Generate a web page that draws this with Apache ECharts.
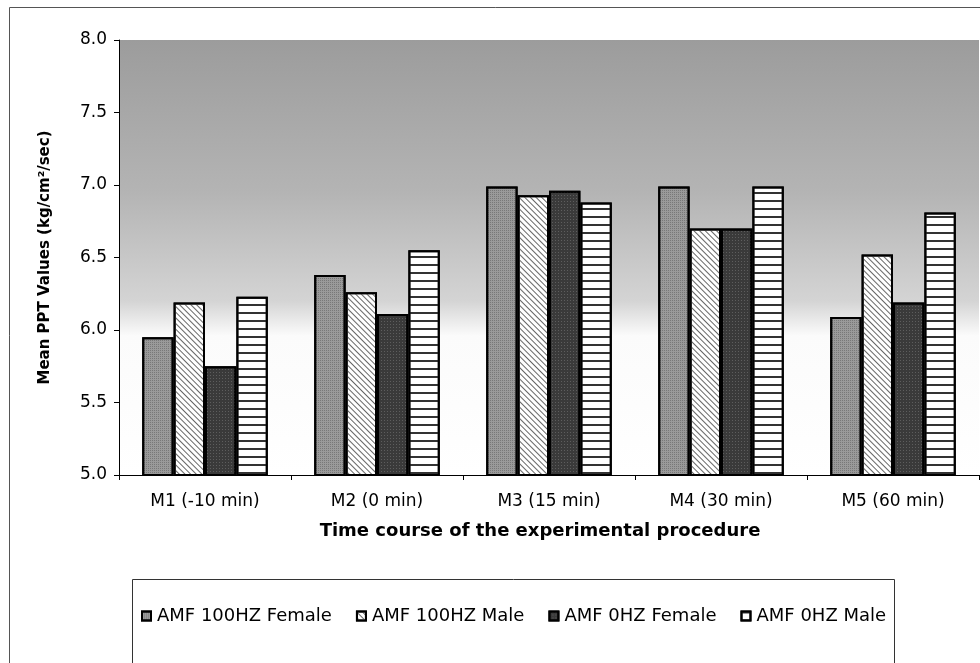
<!DOCTYPE html>
<html>
<head>
<meta charset="utf-8">
<script src="https://cdn.jsdelivr.net/npm/echarts@6/dist/echarts.min.js"></script>
<style>
html,body{margin:0;padding:0;background:#fff;}
#chart{width:980px;height:663px;}
</style>
</head>
<body>
<div id="chart"></div>
<script>
var categories = ['M1 (-10 min)', 'M2 (0 min)', 'M3 (15 min)', 'M4 (30 min)', 'M5 (60 min)'];
var seriesNames = ['AMF 100HZ Female', 'AMF 100HZ Male', 'AMF 0HZ Female', 'AMF 0HZ Male'];
var amf100Female = [5.95, 6.38, 6.99, 6.99, 6.09];
var amf100Male   = [6.19, 6.26, 6.93, 6.70, 6.52];
var amf0Female   = [5.75, 6.11, 6.96, 6.70, 6.19];
var amf0Male     = [6.23, 6.55, 6.88, 6.99, 6.81];
var yTicks = ['5.0', '5.5', '6.0', '6.5', '7.0', '7.5', '8.0'];

var FONT = '"DejaVu Sans", "Liberation Sans", Arial, sans-serif';

var styles = [
  { color: '#9a9a9a', borderColor: '#000', borderWidth: 2,
    decal: { symbol: 'rect', symbolSize: 1, dashArrayX: [1, 1], dashArrayY: [1, 1], color: 'rgba(0,0,0,0.22)' } },
  { color: '#ffffff', borderColor: '#000', borderWidth: 2,
    decal: { symbol: 'rect', symbolSize: 1, dashArrayX: [1, 0], dashArrayY: [1, 3], rotation: Math.PI / 4, color: '#666' } },
  { color: '#3a3a3a', borderColor: '#000', borderWidth: 2,
    decal: { symbol: 'rect', symbolSize: 1, dashArrayX: [1, 2], dashArrayY: [1, 2], color: 'rgba(255,255,255,0.18)' } },
  { color: '#ffffff', borderColor: '#000', borderWidth: 2,
    decal: { symbol: 'rect', symbolSize: 1, dashArrayX: [1, 0], dashArrayY: [1.3, 5.2], rotation: 0, color: '#333' } }
];
var dataSets = [amf100Female, amf100Male, amf0Female, amf0Male];

var chart = echarts.init(document.getElementById('chart'), null, { renderer: 'canvas' });
chart.setOption({
  animation: false,
  backgroundColor: '#fff',
  textStyle: { fontFamily: FONT, color: '#000' },
  grid: {
    left: 119, right: 1, top: 40, bottom: 188, show: true, borderWidth: 0,
    backgroundColor: new echarts.graphic.LinearGradient(0, 0, 0, 1, [
      { offset: 0, color: '#9c9c9c' },
      { offset: 0.35, color: '#b4b4b4' },
      { offset: 0.6, color: '#d4d4d4' },
      { offset: 0.68, color: '#fbfbfb' },
      { offset: 1, color: '#ffffff' }
    ])
  },
  xAxis: {
    type: 'category',
    data: categories,
    axisLine: { lineStyle: { color: '#000', width: 1 } },
    axisTick: { show: true, alignWithLabel: false, length: 5, lineStyle: { color: '#000' } },
    axisLabel: { color: '#000', fontFamily: FONT, fontSize: 17, margin: 18 },
    name: 'Time course of the experimental procedure',
    nameLocation: 'middle',
    nameGap: 47,
    nameTextStyle: { fontFamily: FONT, fontWeight: 'bold', fontSize: 18, color: '#000', padding: [0, 18, 0, 0] }
  },
  yAxis: {
    type: 'value',
    min: 5, max: 8, interval: 0.5,
    splitLine: { show: false },
    axisLine: { show: true, lineStyle: { color: '#000', width: 1 } },
    axisTick: { show: true, length: 5, lineStyle: { color: '#000' } },
    axisLabel: {
      color: '#000', fontFamily: FONT, fontSize: 17, margin: 12,
      formatter: function (v) { return yTicks[Math.round((v - 5) / 0.5)]; }
    },
    name: 'Mean PPT Values (kg/cm\u00B2/sec)',
    nameLocation: 'middle',
    nameGap: 66,
    nameRotate: 90,
    nameTextStyle: { fontFamily: FONT, fontWeight: 'bold', fontSize: 15, color: '#000' }
  },
  legend: {
    data: seriesNames,
    left: 136, top: 602,
    itemWidth: 9, itemHeight: 9, itemGap: 24,
    icon: 'rect',
    textStyle: { fontFamily: FONT, fontSize: 18, color: '#000', padding: [0, 0, 0, 1] }
  },
  graphic: [
    { type: 'rect', left: 7, top: 5, silent: true,
      shape: { width: 1000, height: 700 },
      style: { fill: 'none', stroke: '#555', lineWidth: 1 } },
    { type: 'rect', left: 130, top: 577, silent: true,
      shape: { width: 762, height: 85 },
      style: { fill: 'none', stroke: '#333', lineWidth: 1 } }
  ],
  series: dataSets.map(function (d, i) {
    return {
      name: seriesNames[i],
      type: 'bar',
      data: d,
      barGap: '0%',
      barCategoryGap: '27%',
      itemStyle: styles[i]
    };
  })
});
</script>
</body>
</html>
